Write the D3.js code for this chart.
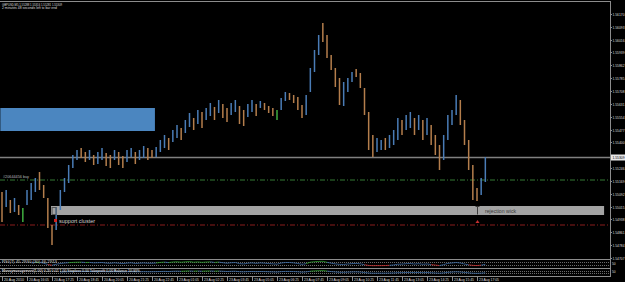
<!DOCTYPE html>
<html>
<head>
<meta charset="utf-8">
<script src="https://cdn.jsdelivr.net/npm/d3@7"></script>
<style>
  body { margin: 0; background: #000; overflow: hidden; }
  svg { display: block; }
  text { font-family: "Liberation Sans", Arial, sans-serif; }
</style>
</head>
<body>
<svg id="chart" width="625" height="282"></svg>
<script>
var highs = [1.55102,1.55114,1.55054,1.55066,1.55024,1.55006,1.55114,1.55156,1.55186,1.55222,
  1.55144,1.55066,1.54904,1.55012,1.55114,1.55186,1.55264,1.55324,1.55354,1.55366,
  1.55342,1.55354,1.55324,1.55342,1.55366,1.55336,1.55324,1.55354,1.55342,1.55318,
  1.55354,1.55366,1.55342,1.55354,1.55378,1.55366,1.55354,1.55372,1.55414,1.55444,
  1.55426,1.55474,1.55504,1.55486,1.55534,1.55576,1.55546,1.55594,1.55582,1.55606,
  1.55636,1.55612,1.55654,1.55630,1.55606,1.55636,1.55654,1.55618,1.55594,1.55630,
  1.55654,1.55630,1.55648,1.55636,1.55618,1.55606,1.55594,1.55666,1.55702,1.55696,
  1.55684,1.55672,1.55624,1.55684,1.55846,1.55954,1.56044,1.56116,1.56044,1.55924,
  1.55846,1.55786,1.55762,1.55786,1.55822,1.55840,1.55816,1.55726,1.55582,1.55444,
  1.55426,1.55414,1.55426,1.55444,1.55474,1.55546,1.55534,1.55564,1.55582,1.55546,
  1.55564,1.55534,1.55546,1.55504,1.55444,1.55384,1.55444,1.55564,1.55594,1.55684,
  1.55654,1.55534,1.55414,1.55264,1.55126,1.55186,1.55312];
var lows = [1.54922,1.55012,1.54976,1.54982,1.54964,1.54922,1.55024,1.55054,1.55102,1.55114,
  1.55066,1.54886,1.54784,1.54874,1.54994,1.55102,1.55156,1.55246,1.55294,1.55306,
  1.55282,1.55294,1.55264,1.55270,1.55294,1.55258,1.55246,1.55294,1.55264,1.55246,
  1.55282,1.55312,1.55270,1.55294,1.55306,1.55294,1.55306,1.55312,1.55342,1.55366,
  1.55354,1.55402,1.55426,1.55414,1.55456,1.55492,1.55474,1.55510,1.55486,1.55534,
  1.55558,1.55534,1.55576,1.55546,1.55522,1.55564,1.55582,1.55510,1.55498,1.55552,
  1.55582,1.55558,1.55606,1.55594,1.55576,1.55558,1.55534,1.55594,1.55648,1.55654,
  1.55636,1.55594,1.55546,1.55564,1.55702,1.55822,1.55924,1.56002,1.55906,1.55834,
  1.55732,1.55624,1.55618,1.55702,1.55762,1.55792,1.55726,1.55564,1.55354,1.55312,
  1.55342,1.55354,1.55354,1.55366,1.55384,1.55414,1.55444,1.55474,1.55486,1.55444,
  1.55474,1.55414,1.55444,1.55384,1.55324,1.55234,1.55294,1.55414,1.55504,1.55564,
  1.55504,1.55384,1.55234,1.55054,1.55048,1.55084,1.55162];
// u = up bar, d = down bar, g = green bar
var dirs = "dududguuud" + "ddduuuuuud" + "duduuddudd" + "uuduudduuu" + "duuduududu" +
           "ududduuddu" + "ududddguud" + "ddduuuuddd" + "dduuuddddd" + "uuduuuduud" +
           "ududdduuuu" + "ddddduu";

var timeLabels = ["20 Aug 2010","20 Aug 16:05","20 Aug 17:25","20 Aug 18:45","20 Aug 20:05",
  "20 Aug 21:25","20 Aug 22:45","23 Aug 01:05","23 Aug 02:25","23 Aug 03:45",
  "23 Aug 05:05","23 Aug 06:25","23 Aug 07:45","23 Aug 09:05","23 Aug 10:25",
  "23 Aug 11:45","23 Aug 13:05","23 Aug 14:25","23 Aug 15:45","23 Aug 17:05"];
var priceTicks = [1.56170,1.56093,1.56016,1.55939,1.55862,1.55785,1.55708,1.55631,1.55554,1.55477,
  1.55400,1.55323,1.55246,1.55169,1.55092,1.55015,1.54938,1.54861,1.54784,1.54707];

var bidPrice = 1.55309;
var buyLevel = 1.55174;
var stopLevel = 1.54904;
var blueZone = [1.55468, 1.55606];
var supportZone = [1.54964, 1.55018];

var svg = d3.select("#chart");
var W = 610, mainBottom = 259;

var x = d3.scaleLinear().domain([0, 116]).range([2, 2 + 116 * 25 / 6]);
var y = d3.scaleLinear().domain([1.54700, 1.56254]).range([mainBottom, 0]);
var barColor = { u: "#4a7cb6", d: "#b47e4c", g: "#3fae3f" };

// zones
svg.append("rect")
  .attr("x", x(-0.4)).attr("y", y(blueZone[1]))
  .attr("width", x(36.7) - x(-0.4)).attr("height", y(blueZone[0]) - y(blueZone[1]))
  .attr("fill", "#4b86c0");
svg.append("rect")
  .attr("x", x(11.76)).attr("y", y(supportZone[1]))
  .attr("width", x(144.5) - x(11.76)).attr("height", y(supportZone[0]) - y(supportZone[1]))
  .attr("fill", "#a3a3a3");

// horizontal lines
svg.append("line").attr("x1", 0).attr("x2", W).attr("y1", y(bidPrice)).attr("y2", y(bidPrice))
  .attr("stroke", "#808080").attr("stroke-width", 1.5);
svg.append("line").attr("x1", 0).attr("x2", W).attr("y1", y(buyLevel)).attr("y2", y(buyLevel))
  .attr("stroke", "#357a35").attr("stroke-dasharray", "5,2,1,2");
svg.append("line").attr("x1", 0).attr("x2", W).attr("y1", y(stopLevel)).attr("y2", y(stopLevel))
  .attr("stroke", "#8a1c1c").attr("stroke-dasharray", "5,2,1,2");

// bars
svg.selectAll(".bar")
  .data(highs)
  .enter().append("line")
    .attr("class", "bar")
    .attr("x1", function(d, i) { return x(i); })
    .attr("x2", function(d, i) { return x(i); })
    .attr("y1", function(d) { return y(d); })
    .attr("y2", function(d, i) { return y(lows[i]); })
    .attr("stroke", function(d, i) { return barColor[dirs[i]]; })
    .attr("stroke-width", 1.5);

// labels / markers
svg.append("text").attr("x", 3).attr("y", y(buyLevel) - 2)
  .attr("font-size", "3.6px").attr("fill", "#bbb")
  .attr("textLength", 26).attr("lengthAdjust", "spacingAndGlyphs")
  .text("#20644456 buy");

var sy = y(supportZone[1]);
svg.append("rect").attr("x", x(11.9) + 0.5).attr("y", sy + 1.5).attr("width", 4).attr("height", 7)
  .attr("fill", "none").attr("stroke", "#555");
svg.append("rect").attr("x", 54).attr("y", 219).attr("width", 3).attr("height", 3).attr("fill", "#d02020");
svg.append("text").attr("x", 59).attr("y", 223)
  .attr("font-size", "5.5px").attr("fill", "#cfcfcf")
  .text("support cluster");

var wx = Math.round(x(114)) + 0.5;
svg.append("line").attr("x1", wx).attr("x2", wx).attr("y1", sy + 0.5).attr("y2", sy + 8.5).attr("stroke", "#3c3c3c");
svg.append("line").attr("x1", wx - 2).attr("x2", wx + 2).attr("y1", sy + 0.5).attr("y2", sy + 0.5).attr("stroke", "#3c3c3c");
svg.append("path").attr("d", "M" + wx + ",220 l-2,3 h4 z").attr("fill", "#c83030");
svg.append("text").attr("x", 485).attr("y", 213)
  .attr("font-size", "5.2px").attr("fill", "#3a3a3a")
  .text("rejection wick");

// title
svg.append("text").attr("x", 2).attr("y", 5.5).attr("font-size", "3.3px").attr("fill", "#ddd")
  .attr("textLength", 60).attr("lengthAdjust", "spacingAndGlyphs")
  .text("GBPUSD,M5  1.55288 1.55316 1.55281 1.55309");
svg.append("text").attr("x", 2).attr("y", 9).attr("font-size", "3.3px").attr("fill", "#ddd")
  .attr("textLength", 55).attr("lengthAdjust", "spacingAndGlyphs")
  .text("2 minutes 48 seconds left to bar end");

// sub windows: RSI of bar midpoints
var mids = highs.map(function(h, i) { return (h + lows[i]) / 2; });
function rsi(vals, n) {
  var out = [], g = 0, l = 0;
  for (var i = 1; i < vals.length; i++) {
    var d = vals[i] - vals[i - 1], up = Math.max(d, 0), dn = Math.max(-d, 0);
    if (i <= n) { g += up / n; l += dn / n; } else { g = (g * (n - 1) + up) / n; l = (l * (n - 1) + dn) / n; }
    if (i >= n) out[i] = l === 0 ? 100 : 100 - 100 / (1 + g / l);
  }
  return out;
}
var subs = [
  { top: 259, bottom: 268, vals: rsi(mids, 7), label: "RSI(7) 45.2930 (30) 46.2913", lw: 55, fill: "#ccc" },
  { top: 268, bottom: 276, vals: rsi(mids, 14), label: "Moneymanagement(1.00) 0.20 0.02 1.00 Stoploss 0.00 Takeprofit 0.00 Balance 10.00%", lw: 138, fill: "#fff" }
];
subs.forEach(function(s) {
  var sy2 = d3.scaleLinear().domain([0, 100]).range([s.bottom - 1, s.top + 1.5]);
  [70, 30].forEach(function(lv) {
    svg.append("line").attr("x1", 0).attr("x2", W).attr("y1", Math.round(sy2(lv)) + 0.5).attr("y2", Math.round(sy2(lv)) + 0.5)
      .attr("stroke", "#6a6a6a").attr("stroke-dasharray", "1,1");
  });
  var segs = [];
  for (var i = 1; i < s.vals.length; i++) if (s.vals[i - 1] != null) segs.push(i);
  svg.selectAll(null).data(segs).enter().append("line")
    .attr("x1", function(i) { return x(i - 1); }).attr("x2", function(i) { return x(i); })
    .attr("y1", function(i) { return sy2(s.vals[i - 1]); }).attr("y2", function(i) { return sy2(s.vals[i]); })
    .attr("stroke", function(i) { var v = s.vals[i]; return v > 70 ? "#2fa02f" : v < 30 ? "#c83030" : "#3f6fa8"; })
    .attr("stroke-width", 0.8);
  svg.append("text").attr("x", 2).attr("y", s.top + 4.2).attr("font-size", "3.3px").attr("fill", s.fill)
    .attr("textLength", s.lw).attr("lengthAdjust", "spacingAndGlyphs").text(s.label);
  svg.append("text").attr("x", 612).attr("y", (s.top + s.bottom) / 2 + 1.2).attr("font-size", "3.3px").attr("fill", "#ddd").text("50");
});

// frame
[1, mainBottom, 268, 276].forEach(function(yy) {
  svg.append("line").attr("x1", 0).attr("x2", W).attr("y1", yy + 0.5).attr("y2", yy + 0.5).attr("stroke", "#8c8c8c");
});
svg.append("line").attr("x1", W + 0.5).attr("x2", W + 0.5).attr("y1", 1).attr("y2", 277).attr("stroke", "#8c8c8c");

// price axis (label hidden where the bid label sits)
var by = y(bidPrice);
var py = svg.append("g");
priceTicks.forEach(function(p) {
  var yy = Math.round(y(p)) + 0.5;
  py.append("line").attr("x1", W).attr("x2", W + 2).attr("y1", yy).attr("y2", yy).attr("stroke", "#8c8c8c");
  if (Math.abs(y(p) - by) < 6) return;
  py.append("text").attr("x", 612.5).attr("y", yy + 1.3).attr("font-size", "3.8px").attr("fill", "#ddd")
    .attr("textLength", 12).attr("lengthAdjust", "spacingAndGlyphs")
    .text(p.toFixed(5));
});
svg.append("rect").attr("x", 611).attr("y", by - 3).attr("width", 14).attr("height", 6).attr("fill", "#e8e8e8");
svg.append("text").attr("x", 612.5).attr("y", by + 1.4).attr("font-size", "3.8px").attr("fill", "#000")
  .attr("textLength", 12).attr("lengthAdjust", "spacingAndGlyphs").text(bidPrice.toFixed(5));

// time axis
timeLabels.forEach(function(t, k) {
  var tx = Math.round(x(k * 6)) + 0.5;
  svg.append("line").attr("x1", tx).attr("x2", tx).attr("y1", 276).attr("y2", 281).attr("stroke", "#8c8c8c");
  svg.append("text").attr("x", tx + 1.5).attr("y", 280.8).attr("font-size", "3.8px").attr("fill", "#ddd")
    .attr("textLength", 20).attr("lengthAdjust", "spacingAndGlyphs").text(t);
});
</script>
</body>
</html>
